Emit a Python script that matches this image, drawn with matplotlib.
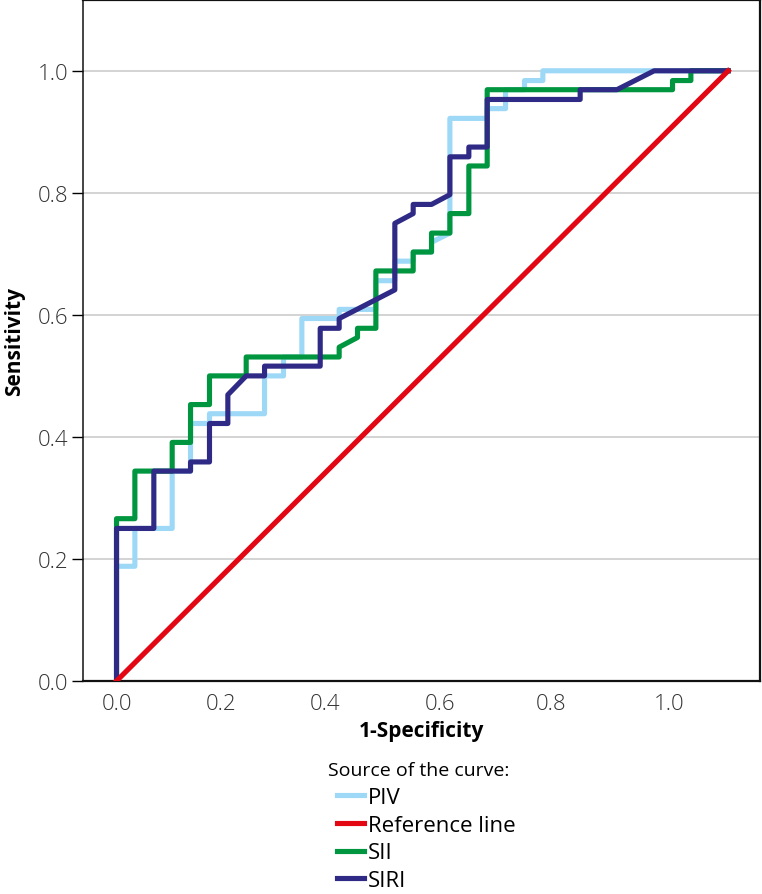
import matplotlib
matplotlib.use("Agg")
import matplotlib.pyplot as plt

plt.rcParams['font.family'] = ['Open Sans', 'DejaVu Sans']

# ROC curves (1-specificity, sensitivity)
piv_x = [0.0, 0.0, 0.030, 0.030, 0.091, 0.091, 0.121, 0.121, 0.152, 0.152,
         0.242, 0.242, 0.273, 0.273, 0.303, 0.303, 0.364, 0.364, 0.424, 0.424,
         0.455, 0.455, 0.485, 0.485, 0.515, 0.515, 0.545, 0.545, 0.606, 0.606,
         0.636, 0.636, 0.667, 0.667, 0.697, 0.697, 1.0]
piv_y = [0.0, 0.188, 0.188, 0.250, 0.250, 0.344, 0.344, 0.422, 0.422, 0.438,
         0.438, 0.500, 0.500, 0.531, 0.531, 0.594, 0.594, 0.609, 0.609, 0.656,
         0.656, 0.688, 0.688, 0.703, 0.703, 0.719, 0.734, 0.922, 0.922, 0.938,
         0.938, 0.969, 0.969, 0.984, 0.984, 1.0, 1.0]

sii_x = [0.0, 0.0, 0.030, 0.030, 0.091, 0.091, 0.121, 0.121, 0.152, 0.152,
         0.212, 0.212, 0.364, 0.364, 0.394, 0.394, 0.424, 0.424, 0.485, 0.485,
         0.515, 0.515, 0.545, 0.545, 0.576, 0.576, 0.606, 0.606, 0.909, 0.909,
         0.939, 0.939, 1.0]
sii_y = [0.0, 0.266, 0.266, 0.344, 0.344, 0.391, 0.391, 0.453, 0.453, 0.500,
         0.500, 0.531, 0.531, 0.547, 0.563, 0.578, 0.578, 0.672, 0.672, 0.703,
         0.703, 0.734, 0.734, 0.766, 0.766, 0.844, 0.844, 0.969, 0.969, 0.984,
         0.984, 1.0, 1.0]

siri_x = [0.0, 0.0, 0.061, 0.061, 0.121, 0.121, 0.152, 0.152, 0.182, 0.182,
          0.212, 0.242, 0.242, 0.333, 0.333, 0.364, 0.364, 0.455, 0.455, 0.485,
          0.485, 0.515, 0.545, 0.545, 0.576, 0.576, 0.606, 0.606, 0.758, 0.758,
          0.818, 0.879, 1.0]
siri_y = [0.0, 0.250, 0.250, 0.344, 0.344, 0.359, 0.359, 0.422, 0.422, 0.469,
          0.500, 0.500, 0.516, 0.516, 0.578, 0.578, 0.594, 0.641, 0.750, 0.766,
          0.781, 0.781, 0.797, 0.859, 0.859, 0.875, 0.875, 0.953, 0.953, 0.969,
          0.969, 1.0, 1.0]

ref_x = [0.0, 1.0]
ref_y = [0.0, 1.0]

x_tick_pos = [0.0, 0.171, 0.341, 0.529, 0.710, 0.904]
x_tick_labels = ["0.0", "0.2", "0.4", "0.6", "0.8", "1.0"]
y_ticks = [0.0, 0.2, 0.4, 0.6, 0.8, 1.0]

W, H = 762, 895
fig = plt.figure(figsize=(W / 100, H / 100), dpi=100)
ax = fig.add_axes([83 / W, 1 - 682 / H, (760 - 83) / W, (682 - 1) / H])

lw = 3.7
l_piv, = ax.plot(piv_x, piv_y, color="#9dd9f7", lw=lw, label="PIV", zorder=3)
l_sii, = ax.plot(sii_x, sii_y, color="#00963f", lw=lw, label="SII", zorder=4)
l_siri, = ax.plot(siri_x, siri_y, color="#2e2a85", lw=lw, label="SIRI", zorder=5)
l_ref, = ax.plot(ref_x, ref_y, color="#e30613", lw=lw, label="Reference line", zorder=6)

ax.set_xlim(-0.0548, 1.052)
ax.set_ylim(0, 1.116)

ax.set_yticks(y_ticks)
ax.set_yticklabels([f"{v:.1f}" for v in y_ticks])
ax.set_xticks(x_tick_pos)
ax.set_xticklabels(x_tick_labels)

ax.yaxis.grid(True, color="#c8c8c8", lw=1.1)
ax.set_axisbelow(True)

ax.tick_params(axis="y", length=7.7, width=1, direction="out", pad=3,
               labelsize=16, labelcolor="#333333")
ax.tick_params(axis="x", length=0, pad=9, labelsize=16, labelcolor="#333333")
for lab in ax.get_xticklabels() + ax.get_yticklabels():
    lab.set_fontweight("light")

for s in ax.spines.values():
    s.set_linewidth(1.6)
    s.set_color("#111111")
ax.spines["left"].set_linewidth(1.1)

ax.set_xlabel("1-Specificity", fontsize=15, fontweight="bold", labelpad=4)
ax.set_ylabel("Sensitivity", fontsize=15, fontweight="bold", labelpad=9)

fig.text(328 / W, 1 - 771 / H, "Source of the curve:", fontsize=14,
         va="center", ha="left")
fig.legend(handles=[l_piv, l_ref, l_sii, l_siri], loc="upper left",
           bbox_to_anchor=(337 / W, 1 - 788 / H), frameon=False,
           fontsize=16, handlelength=1.2, handletextpad=0.2,
           labelspacing=0.3, borderpad=0, borderaxespad=0)

fig.savefig("out.png", dpi=100)
